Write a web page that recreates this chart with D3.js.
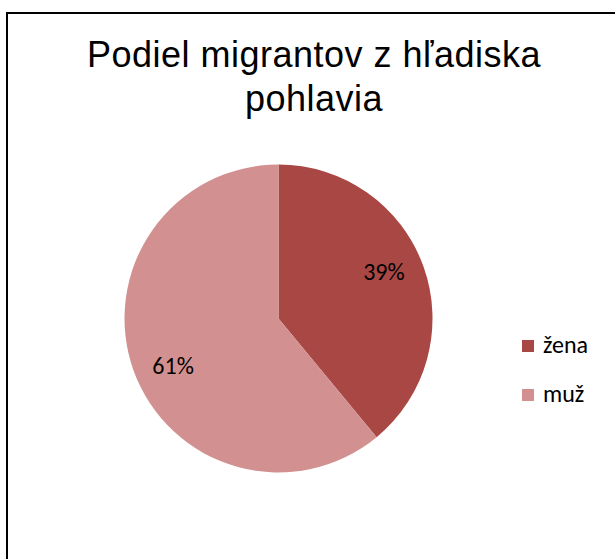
<!DOCTYPE html>
<html>
<head>
<meta charset="utf-8">
<script src="https://cdn.jsdelivr.net/npm/d3@7"></script>
<style>
  html, body { margin: 0; padding: 0; background: #fff; }
</style>
</head>
<body>
<div id="chart"></div>
<script>
const categories = ["žena", "muž"]
const values = [39, 61]
const labels = ["39%", "61%"]
const colors = ["#A94744", "#D29190"]
const titleLines = ["Podiel migrantov z hľadiska", "pohlavia"]

const width = 615
const height = 559

const svg = d3.select("#chart").append("svg")
  .attr("width", width)
  .attr("height", height)

// chart frame (runs off the right and bottom edge)
svg.append("rect")
  .attr("x", 7)
  .attr("y", 13)
  .attr("width", width + 20)
  .attr("height", height + 20)
  .attr("fill", "#fff")
  .attr("stroke", "#000")
  .attr("stroke-width", 2)

// title
svg.append("g")
  .selectAll("text")
  .data(titleLines)
  .enter().append("text")
  .attr("x", 314)
  .attr("y", (d, i) => 67 + i * 44)
  .attr("text-anchor", "middle")
  .attr("font-family", "'Liberation Sans', Arial, sans-serif")
  .attr("font-size", 36)
  .attr("letter-spacing", 0.5)
  .attr("fill", "#000")
  .text(d => d)

const cx = 278.5, cy = 318.5, r = 154

const pie = d3.pie().sort(null).value(d => d)
const arcs = pie(values)

const arc = d3.arc().innerRadius(0).outerRadius(r)
const labelArc = d3.arc().innerRadius(r * 0.75).outerRadius(r * 0.75)
// excel puts the labels a little counter-clockwise of the centroid
const labelShift = 0.075

const g = svg.append("g")
  .attr("transform", `translate(${cx},${cy})`)

g.selectAll("path")
  .data(arcs)
  .enter().append("path")
  .attr("d", arc)
  .attr("fill", (d, i) => colors[i])

g.selectAll("text")
  .data(arcs)
  .enter().append("text")
  .attr("transform", d => `translate(${labelArc.centroid({
    startAngle: d.startAngle - labelShift,
    endAngle: d.endAngle - labelShift
  })})`)
  .attr("text-anchor", "middle")
  .attr("dy", "0.36em")
  .attr("font-family", "Carlito, Calibri, Lato, sans-serif")
  .attr("font-size", 24)
  .attr("fill", "#000")
  .text((d, i) => labels[i])

// legend
const legend = svg.append("g")
  .selectAll("g")
  .data(categories)
  .enter().append("g")
  .attr("transform", (d, i) => `translate(522, ${340 + i * 49})`)

legend.append("rect")
  .attr("width", 12)
  .attr("height", 12)
  .attr("fill", (d, i) => colors[i])

legend.append("text")
  .attr("x", 21)
  .attr("y", 13)
  .attr("font-family", "Carlito, Calibri, Lato, sans-serif")
  .attr("font-size", 24)
  .attr("fill", "#000")
  .text(d => d)
</script>
</body>
</html>
